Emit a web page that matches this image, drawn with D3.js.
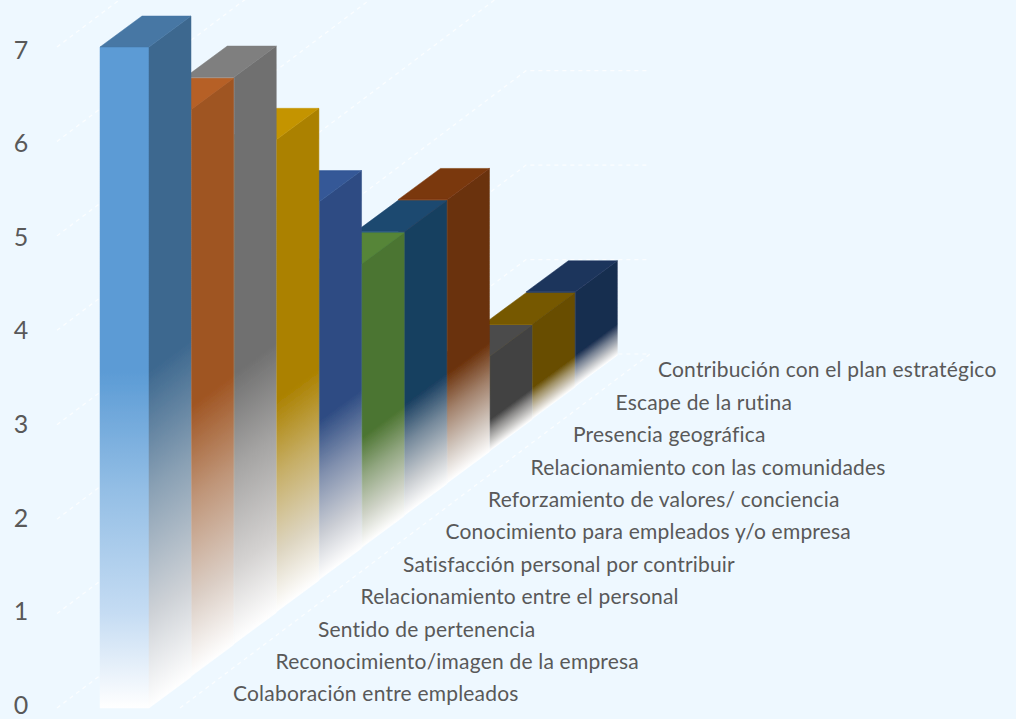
<!DOCTYPE html>
<html><head><meta charset="utf-8">
<script src="https://cdn.jsdelivr.net/npm/d3@7"></script>
<style>html,body{margin:0;padding:0;background:#eef8ff}svg{display:block}text{font-family:Lato,"Open Sans",sans-serif}</style>
</head><body><svg id="c" width="1016" height="719"></svg>
<script>
const categories = ["Colaboración entre empleados","Reconocimiento/imagen de la empresa","Sentido de pertenencia","Relacionamiento entre el personal","Satisfacción personal por contribuir","Conocimiento para empleados y/o empresa","Reforzamiento de valores/ conciencia","Relacionamiento con las comunidades","Presencia geográfica","Escape de la rutina","Contribución con el plan estratégico"];
const values = [7,6,6,5,4,3,3,3,1,1,1];
const colors = ["#5B9BD5","#ED7D31","#A5A5A5","#FFC000","#4472C4","#70AD47","#255E91","#9E480E","#636363","#997300","#264478"];
const yTicks = [0,1,2,3,4,5,6,7];

const svg = d3.select("#c"), defs = svg.append("defs");
const W = 49, DX = 42, DY = -31;
const v = d3.scaleLinear().domain([0,7]).range([708,47]);   // value to wall height
const unit = v(0)-v(1);
const px = d3.scaleLinear().domain([0,11]).range([100,569]);  // depth index to screen x
const py = d3.scaleLinear().domain([0,11]).range([708,354]);  // depth index to screen y

defs.append("filter").attr("id","soft").attr("x","-5%").attr("y","-5%").attr("width","110%").attr("height","110%")
  .append("feGaussianBlur").attr("stdDeviation",.6);

// walls and floor grid
const grid = svg.append("g").attr("fill","none").attr("stroke","#fff").attr("stroke-width",1.2).attr("stroke-dasharray","4 4").attr("opacity",.8);
const line = d3.line();
yTicks.forEach(t=>{
  const a=[px(0)-43,py(0)-unit*t], b=[px(11)-43,py(11)-unit*t], c=[650,py(11)-unit*t];
  grid.append("path").attr("d",line([a,b,c]));
});
grid.append("path").attr("d",line([[px(0)+80,py(0)],[650,py(11)]]));

function grad(id,c,x1,y1,x2,y2,side,start){
  const col=d3.rgb(c), mix=d3.interpolateRgb(col,side?"#e6e4e2":"#d8e8f8");
  const g=defs.append("linearGradient").attr("id",id).attr("gradientUnits","userSpaceOnUse")
    .attr("x1",x1).attr("y1",y1).attr("x2",x2).attr("y2",y2);
  const s=start, r=1-s;
  [[0,col],[s,col],[s+r*.35,mix(.45)],[s+r*.72,mix(.85)],[1,"#ffffff"]].forEach(([o,k])=>g.append("stop").attr("offset",o).attr("stop-color",k));
  return `url(#${id})`;
}
function shade(c,k){const r=d3.rgb(c);return d3.rgb(r.r*k,r.g*k,r.b*k).formatHex();}

const order = d3.range(values.length).reverse();
const bars = svg.append("g").attr("filter","url(#soft)");
order.forEach(i=>{
  const x=px(i), base=py(i), top=base-unit*values[i], h=base-top, c=colors[i];
  const start=.7-.03*values[i];
  const g=bars.append("g");
  const ff=grad("f"+i,c,x,top,x,base,false,start);
  g.append("path").attr("d",line([[x,top],[x+W,top],[x+W,base],[x,base]])+"Z").attr("fill",ff).attr("stroke",ff).attr("stroke-width",.5);
  const sc=shade(c,.67);
  const sf=grad("s"+i,sc,x+W,top,x+W+h*.478,top+h*.648,true,start);
  g.append("path").attr("d",line([[x+W,top],[x+W+DX,top+DY],[x+W+DX,base+DY],[x+W,base]])+"Z").attr("fill",sf).attr("stroke",sf).attr("stroke-width",.5);
  const tf=shade(c,.77);
  g.append("path").attr("d",line([[x,top],[x+DX,top+DY],[x+W+DX,top+DY],[x+W,top]])+"Z").attr("fill",tf).attr("stroke",tf).attr("stroke-width",.5);
});

// axis labels
const tickY=d3.scaleLinear().domain([0,7]).range([705,50]);
svg.append("g").selectAll("text").data(yTicks).join("text")
  .attr("x",21).attr("y",t=>tickY(t)).attr("dy","0.35em").attr("text-anchor","middle")
  .attr("font-size",25).attr("fill","#595959").text(t=>t);
const lx=d3.scaleLinear().domain([0,10]).range([233,658]);
const ly=d3.scaleLinear().domain([0,10]).range([694,370]);
svg.append("g").selectAll("text").data(categories).join("text")
  .attr("x",(d,i)=>lx(i)).attr("y",(d,i)=>ly(i)).attr("dy","0.35em")
  .attr("font-size",21).attr("letter-spacing",.2).attr("fill","#595959").text(d=>d);
</script></body></html>
